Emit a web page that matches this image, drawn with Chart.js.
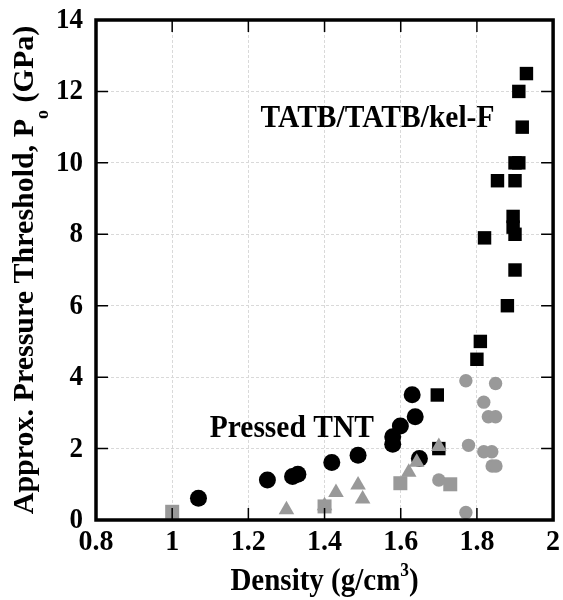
<!DOCTYPE html>
<html lang="en">
<head>
  <meta charset="UTF-8" />
  <title>Pressure threshold vs density</title>
  <script src="https://cdn.jsdelivr.net/npm/chart.js"></script>
  <style>
    html, body { margin: 0; padding: 0; background: #fff; }
    #wrap { width: 563px; height: 600px; }
  </style>
</head>
<body>
  <div id="wrap"><canvas id="chart" width="563" height="600"></canvas></div>
  <script>
    // tick values and labels
    const xTickValues = [0.8, 1.0, 1.2, 1.4, 1.6, 1.8, 2.0];
    const xTickLabels = ['0.8', '1', '1.2', '1.4', '1.6', '1.8', '2'];
    const yTickValues = [0, 2, 4, 6, 8, 10, 12, 14];
    const yTickLabels = ['0', '2', '4', '6', '8', '10', '12', '14'];

    // TATB / TATB/kel-F (black squares)
    const tatbSquares = [
      {x: 1.930, y: 12.5}, {x: 1.910, y: 12.0}, {x: 1.919, y: 11.0},
      {x: 1.900, y: 10.0}, {x: 1.910, y: 10.0}, {x: 1.854, y: 9.5},
      {x: 1.900, y: 9.5}, {x: 1.895, y: 8.5}, {x: 1.895, y: 8.2},
      {x: 1.900, y: 8.0}, {x: 1.820, y: 7.9}, {x: 1.900, y: 7.0},
      {x: 1.880, y: 6.0}, {x: 1.809, y: 5.0}, {x: 1.800, y: 4.5},
      {x: 1.696, y: 3.5}, {x: 1.700, y: 2.0}
    ];
    // Pressed TNT (black circles)
    const tntCircles = [
      {x: 1.069, y: 0.61}, {x: 1.250, y: 1.12}, {x: 1.316, y: 1.22},
      {x: 1.330, y: 1.28}, {x: 1.419, y: 1.61}, {x: 1.488, y: 1.81},
      {x: 1.630, y: 3.51}, {x: 1.638, y: 2.89}, {x: 1.599, y: 2.63},
      {x: 1.579, y: 2.33}, {x: 1.579, y: 2.12}, {x: 1.649, y: 1.72}
    ];
    // other explosives (grey)
    const greyTriangles = [
      {x: 1.300, y: 0.29}, {x: 1.400, y: 0.40}, {x: 1.430, y: 0.77},
      {x: 1.488, y: 0.98}, {x: 1.500, y: 0.59}, {x: 1.621, y: 1.34},
      {x: 1.642, y: 1.62}, {x: 1.700, y: 2.06}
    ];
    const greySquares = [
      {x: 1.000, y: 0.23}, {x: 1.400, y: 0.38}, {x: 1.599, y: 1.03},
      {x: 1.730, y: 1.00}
    ];
    const greyCircles = [
      {x: 1.771, y: 3.90}, {x: 1.849, y: 3.82}, {x: 1.818, y: 3.30},
      {x: 1.830, y: 2.89}, {x: 1.849, y: 2.89}, {x: 1.778, y: 2.09},
      {x: 1.818, y: 1.91}, {x: 1.839, y: 1.91}, {x: 1.840, y: 1.51},
      {x: 1.850, y: 1.51}, {x: 1.700, y: 1.12}, {x: 1.771, y: 0.21}
    ];

    // text labels placed in data coordinates
    const notes = [
      {text: 'TATB/TATB/kel-F', x: 1.539, y: 11.0},
      {text: 'Pressed TNT', x: 1.314, y: 2.32}
    ];

    const FONT = "'Liberation Serif', 'Times New Roman', serif";
    const GREY = '#999999';

    function ds(data, style, color, radius) {
      return {
        data: data, pointStyle: style, pointRadius: radius, pointHoverRadius: radius,
        backgroundColor: color, borderColor: color, borderWidth: 0, showLine: false, clip: false
      };
    }

    // bold serif text, a bit taller than wide like the original figure
    function text(ctx, str, x, y, size, align, sy) {
      ctx.save();
      ctx.translate(x, y);
      ctx.scale(1, sy || 1);
      ctx.font = 'bold ' + size + 'px ' + FONT;
      ctx.textAlign = align;
      ctx.textBaseline = 'alphabetic';
      ctx.fillText(str, 0, 0);
      ctx.restore();
    }

    // draw text made of pieces: normal, sub, sup (centred on origin)
    function drawRich(ctx, parts, size) {
      let total = 0;
      parts.forEach(p => {
        ctx.font = 'bold ' + (p.small ? size * 0.6 : size) + 'px ' + FONT;
        p.w = ctx.measureText(p.t).width;
        total += p.w;
      });
      let x = -total / 2;
      ctx.textAlign = 'left';
      parts.forEach(p => {
        ctx.font = 'bold ' + (p.small ? size * 0.6 : size) + 'px ' + FONT;
        ctx.fillText(p.t, x, p.dy || 0);
        x += p.w;
      });
    }

    const framePlugin = {
      id: 'frame',
      afterDraw(chart) {
        const ctx = chart.ctx;
        const a = chart.chartArea;
        const xs = chart.scales.x, ys = chart.scales.y;
        ctx.save();
        // inward tick marks on all sides
        ctx.strokeStyle = '#000';
        ctx.lineWidth = 1.5;
        ctx.beginPath();
        xTickValues.forEach(v => {
          const px = xs.getPixelForValue(v);
          ctx.moveTo(px, a.bottom); ctx.lineTo(px, a.bottom - 12);
          ctx.moveTo(px, a.top); ctx.lineTo(px, a.top + 12);
        });
        yTickValues.forEach(v => {
          const py = ys.getPixelForValue(v);
          ctx.moveTo(a.left, py); ctx.lineTo(a.left + 12, py);
          ctx.moveTo(a.right, py); ctx.lineTo(a.right - 12, py);
        });
        ctx.stroke();
        // frame
        ctx.lineWidth = 3.5;
        ctx.strokeRect(a.left, a.top, a.right - a.left, a.bottom - a.top);

        ctx.fillStyle = '#000';
        // tick labels
        xTickValues.forEach((v, i) => {
          text(ctx, xTickLabels[i], xs.getPixelForValue(v), a.bottom + 30, 28, 'center', 1.07);
        });
        yTickValues.forEach((v, i) => {
          text(ctx, yTickLabels[i], a.left - 13, ys.getPixelForValue(v) + 8, 27, 'right', 1.1);
        });
        // annotations
        notes.forEach(n => {
          text(ctx, n.text, xs.getPixelForValue(n.x), ys.getPixelForValue(n.y), 29.5, 'center', 1.07);
        });
        // axis titles
        ctx.textBaseline = 'alphabetic';
        ctx.save();
        ctx.translate((a.left + a.right) / 2, 590);
        ctx.scale(1, 1.1);
        drawRich(ctx, [
          {t: 'Density (g/cm'},
          {t: '3', small: true, dy: -13},
          {t: ')'}
        ], 29);
        ctx.restore();
        ctx.save();
        ctx.translate(33, (a.top + a.bottom) / 2);
        ctx.rotate(-Math.PI / 2);
        drawRich(ctx, [
          {t: 'Approx. Pressure Threshold, P'},
          {t: 'o', small: true, dy: 15},
          {t: ' (GPa)'}
        ], 30);
        ctx.restore();
        ctx.restore();
      }
    };

    new Chart(document.getElementById('chart'), {
      type: 'scatter',
      data: {
        datasets: [
          ds(greySquares, 'rect', GREY, 9.9),
          ds(greyTriangles, 'triangle', GREY, 9),
          ds(greyCircles, 'circle', GREY, 6.7),
          ds(tntCircles, 'circle', '#000', 8.5),
          ds(tatbSquares, 'rect', '#000', 9.5)
        ]
      },
      options: {
        responsive: false,
        animation: false,
        layout: { padding: { top: 20, right: 8, left: 0, bottom: 0 } },
        plugins: { legend: { display: false }, tooltip: { enabled: false } },
        scales: {
          x: {
            type: 'linear', min: 0.8, max: 2.0,
            afterBuildTicks: s => { s.ticks = xTickValues.map(v => ({value: v})); },
            afterFit: s => { s.height = 80; },
            ticks: { display: false },
            grid: { color: '#d9d9d9', lineWidth: 1, drawTicks: false },
            border: { display: false, dash: [3, 2] }
          },
          y: {
            type: 'linear', min: 0, max: 14,
            afterBuildTicks: s => { s.ticks = yTickValues.map(v => ({value: v})); },
            afterFit: s => { s.width = 96; },
            ticks: { display: false },
            grid: { color: '#d9d9d9', lineWidth: 1, drawTicks: false },
            border: { display: false, dash: [3, 2] }
          }
        }
      },
      plugins: [framePlugin]
    });
  </script>
</body>
</html>
